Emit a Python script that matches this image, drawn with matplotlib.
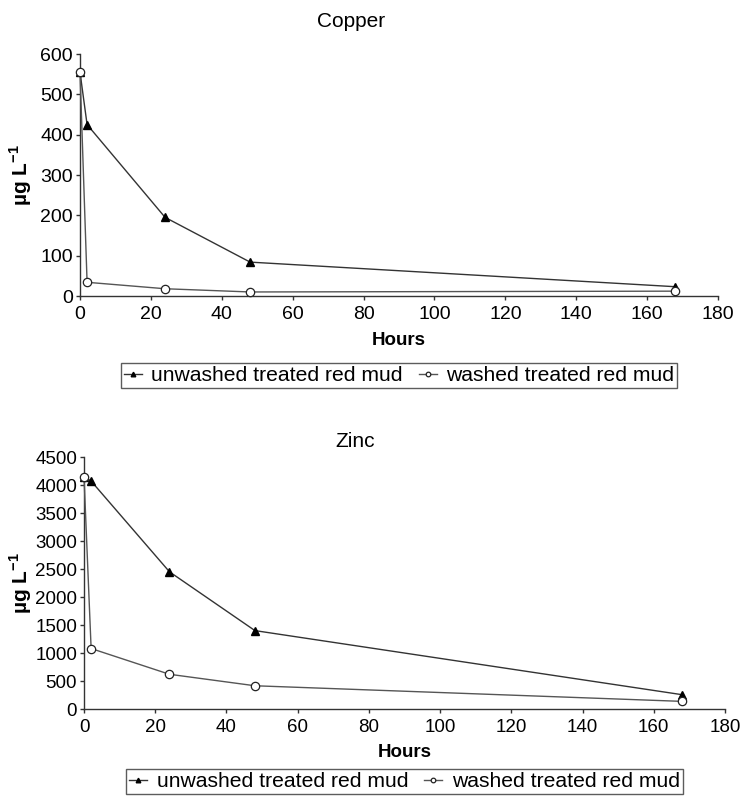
import matplotlib
matplotlib.use("Agg")
import matplotlib.pyplot as plt

plt.rcParams['font.family'] = ['Liberation Sans', 'DejaVu Sans']
plt.rcParams['mathtext.fontset'] = 'custom'
plt.rcParams['mathtext.rm'] = 'Liberation Sans'
plt.rcParams['mathtext.bf'] = 'Liberation Sans:bold'

hours = [0, 2, 24, 48, 168]
cu_unwashed = [555, 425, 195, 84, 23]
cu_washed = [555, 34, 18, 10, 12]
zn_unwashed = [4150, 4070, 2450, 1400, 255]
zn_washed = [4150, 1080, 620, 415, 136]

xticks = [0, 20, 40, 60, 80, 100, 120, 140, 160, 180]
cu_yticks = [0, 100, 200, 300, 400, 500, 600]
zn_yticks = [0, 500, 1000, 1500, 2000, 2500, 3000, 3500, 4000, 4500]

labels = ['unwashed treated red mud', 'washed treated red mud']

W, H = 740, 796
fig = plt.figure(figsize=(W / 100, H / 100), dpi=100)
ax1 = fig.add_axes([80 / W, 1 - 296 / H, 638 / W, 242 / H])
ax2 = fig.add_axes([84 / W, 1 - 709 / H, 641 / W, 252 / H])


def draw(ax, unw, wsh, yticks, title, title_x, title_base, hours_pad,
         leg_y, ylab_x, tick_fs):
    ax.plot(hours, unw, color='#333333', lw=1.0, marker='^', ms=6,
            mfc='black', mec='black', clip_on=False, label=labels[0], zorder=3)
    ax.plot(hours, wsh, color='#555555', lw=1.0, marker='o', ms=6,
            mfc='white', mec='#222222', mew=0.9, clip_on=False,
            label=labels[1], zorder=4)
    ax.set_xlim(0, 180)
    ax.set_ylim(0, yticks[-1])
    ax.set_xticks(xticks)
    ax.set_yticks(yticks)
    for s in ['top', 'right']:
        ax.spines[s].set_visible(False)
    for s in ['left', 'bottom']:
        ax.spines[s].set_color('#333333')
        ax.spines[s].set_linewidth(1.0)
    ax.tick_params(direction='out', length=3, width=1, color='#333333',
                   labelsize=tick_fs)
    ax.tick_params(axis='y', pad=2)
    ax.tick_params(axis='x', pad=4)
    ax.set_xlabel('Hours', fontsize=13.5, fontweight='bold',
                  labelpad=hours_pad)
    ax.set_ylabel(r'µg L$^{\mathbf{-1}}$', fontsize=15, fontweight='bold')
    ax.yaxis.set_label_coords(ylab_x, 0.5)
    fig.text(title_x / W, 1 - title_base / H, title, fontsize=15,
             ha='center', va='baseline')
    leg = ax.legend(loc='upper center', bbox_to_anchor=(0.5, leg_y), ncol=2,
                    frameon=True, fancybox=False, fontsize=15.2,
                    handlelength=0.85, handletextpad=0.45, columnspacing=0.75,
                    borderpad=0.15, markerscale=0.55, borderaxespad=0)
    leg.get_frame().set_edgecolor('#333333')
    leg.get_frame().set_linewidth(1.0)


draw(ax1, cu_unwashed, cu_washed, cu_yticks, 'Copper', 351, 27, 7,
     -67 / 242, (34 - 80) / 638, 14)
draw(ax2, zn_unwashed, zn_washed, zn_yticks, 'Zinc', 355, 447, 6,
     -60 / 252, (34 - 84) / 641, 13.5)

fig.savefig('out.png', dpi=100)
